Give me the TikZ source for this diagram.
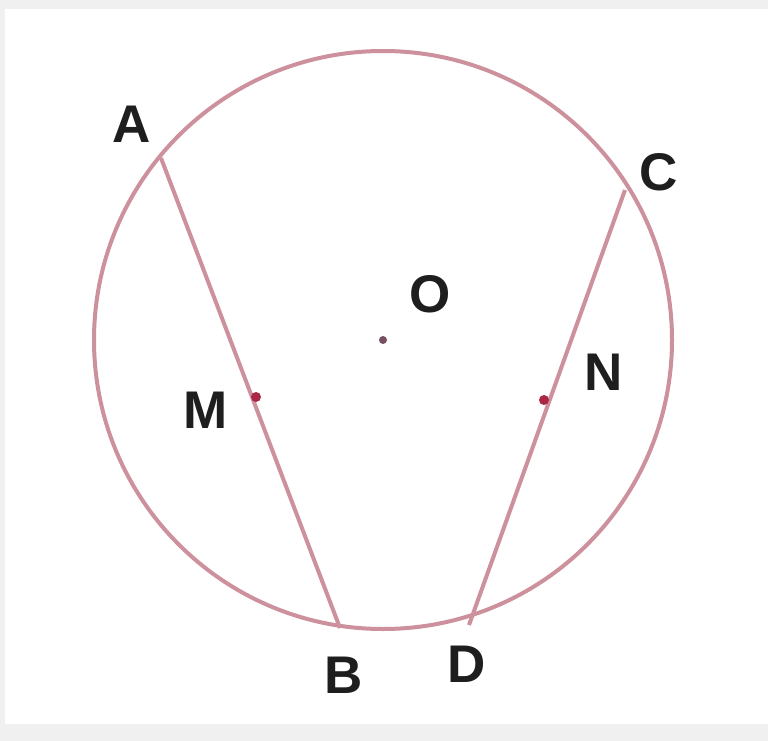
\documentclass[tikz,border=0pt]{standalone}
\usepackage{fontspec}
\setmainfont{Liberation Sans}
\definecolor{frame}{RGB}{240,240,240}
\definecolor{pinkline}{RGB}{205,145,158}
\definecolor{dotred}{RGB}{170,40,70}
\definecolor{dotgray}{RGB}{120,80,100}
\definecolor{lbl}{RGB}{30,30,30}
\begin{document}
\begin{tikzpicture}[x=1pt,y=-1pt,
  geo/.style={draw=pinkline,line width=4pt},
  lab/.style={font=\fontsize{53}{53}\selectfont\bfseries,text=lbl,inner sep=0pt},
  pt/.style={circle,inner sep=0pt,minimum size=0pt}]
\fill[frame] (0,0) rectangle (768,741);
\fill[white] (5,9) rectangle (768,724);
\useasboundingbox (0,0) rectangle (768,741);
\coordinate (O) at (383,340);
\draw[geo] (O) circle (289);
\coordinate (A) at (161,158);
\coordinate (B) at (340,628);
\coordinate (C) at (625,190);
\coordinate (D) at (469,625);
\coordinate (M) at (256,397);
\coordinate (N) at (544,400);
\draw[geo] (A) -- (B);
\draw[geo] (C) -- (D);
\fill[dotred] (M) circle (5);
\fill[dotred] (N) circle (5);
\fill[dotgray] (O) circle (4);
\node[lab] (lA) at (132,124) {A};
\node[lab] (lC) at (659,172) {C};
\node[lab] (lB) at (344,675) {B};
\node[lab] (lD) at (467,664) {D};
\node[lab] (lM) at (206,410) {M};
\node[lab] (lN) at (604,372) {N};
\node[lab] (lO) at (430,294) {O};
\end{tikzpicture}
\end{document}
